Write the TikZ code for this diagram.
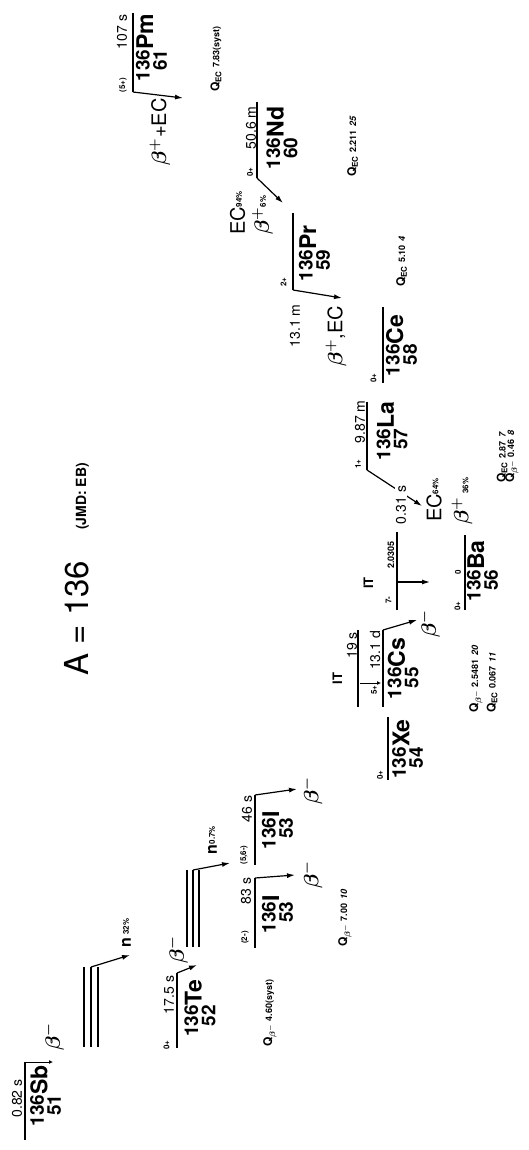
\documentclass[tikz,border=0pt]{standalone}
\usepackage{fontspec}
\usepackage{bm}
\setmainfont{TeX Gyre Heros}
\usetikzlibrary{arrows.meta}
\newcommand{\fs}[1]{\fontsize{#1}{#1}\selectfont}
\newcommand{\nuc}[3]{{\renewcommand{\arraystretch}{0}\fs{19}\bfseries\begin{tabular}[t]{@{}r@{}}\raisebox{3.5pt}{#1}\\#2\end{tabular}\fs{23}#3}}
\newcommand{\Qv}[3]{Q\textsubscript{#1}\hspace{3pt}{\fs{9}#2\hspace{4pt}{\itshape #3}}}
\newcommand{\bp}{$\bm{\beta}^{\bm{+}}$}
\newcommand{\bmn}{$\bm{\beta}^{\bm{-}}$}
\begin{document}
\begin{tikzpicture}[x=1pt,y=-1pt,
  lvl/.style={line width=2.8pt},
  thn/.style={line width=1.1pt},
  arr/.style={line width=1.2pt,-{Latex[length=8pt,width=5pt]}},
  arrs/.style={line width=1pt,-{Latex[length=4pt,width=4pt]}},
  rt/.style={rotate=90,inner sep=0pt},
  hl/.style={rt,font=\fs{14}},
  sp/.style={rt,font=\fs{8}\bfseries},
  q/.style={rt,anchor=west,font=\fs{12}\bfseries},
  dk/.style={rt,font=\fs{20}}]
\useasboundingbox (0,0) rectangle (528,1150);
\node[rt,font=\fs{33}] (title) at (76.5,618) {A = 136};
\node[rt,font=\fs{14}\bfseries] (auth) at (82.5,496.5) {(JMD: EB)};
% Pm
\coordinate (pmT) at (133,13); \coordinate (pmB) at (133,92); \coordinate (pmA) at (183,98);
\draw[lvl] (pmT) -- (pmB);
\node[rt] (pmL) at (151.5,47.5) {\nuc{136}{61}{Pm}};
\node[hl] (pmH) at (122,32) {107 s};
\node[sp] (pmS) at (123,85) {(5+)};
\draw[arr] (pmB) -- (pmA);
\node[dk] (pmD) at (160,132) {\bp+EC};
\node[q] (pmQ) at (216,92) {\Qv{EC}{7.83(syst)}{}};
% Nd
\coordinate (ndT) at (257,102); \coordinate (ndB) at (257,178); \coordinate (ndA) at (283,203);
\draw[lvl] (ndT) -- (ndB);
\node[rt] (ndL) at (282,138) {\nuc{136}{60}{Nd}};
\node[hl] (ndH) at (251,128) {50.6 m};
\node[sp] (ndS) at (250,172) {0+};
\draw[arr] (ndB) -- (ndA);
\node[dk] (ndEC) at (237.5,213) {EC\raisebox{3pt}{\fs{8}\bfseries 94\%}};
\node[dk] (ndBp) at (262.5,215) {\bp\raisebox{3pt}{\fs{8}\bfseries 6\%}};
\node[q] (ndQ) at (352.5,177) {\Qv{EC}{2.211}{25}};
% Pr
\coordinate (prT) at (293,213); \coordinate (prB) at (293,290); \coordinate (prA) at (342,298);
\draw[lvl] (prT) -- (prB);
\node[rt] (prL) at (314.5,253.5) {\nuc{136}{59}{Pr}};
\node[sp] (prS) at (283.5,282) {2+};
\node[hl] (prH) at (295,326) {13.1 m};
\draw[arr] (prB) -- (prA);
\node[dk] (prD) at (336,336.5) {\bp,EC};
\node[q] (prQ) at (401.5,287) {\Qv{EC}{5.10}{4}};
% Ce
\coordinate (ceT) at (383,307); \coordinate (ceB) at (383,383);
\draw[lvl] (ceT) -- (ceB);
\node[rt] (ceL) at (401.5,345.5) {\nuc{136}{58}{Ce}};
\node[sp] (ceS) at (373.5,378) {0+};
% La
\coordinate (laT) at (367,402); \coordinate (laB) at (367,470); \coordinate (laA) at (422,506);
\draw[lvl] (laT) -- (laB);
\node[rt] (laL) at (392,431) {\nuc{136}{57}{La}};
\node[sp] (laS) at (358,464) {1+};
\node[hl] (laH) at (360,422) {9.87 m};
\draw[arr] (laB) -- (laA);
\node[dk] (laEC) at (434,500) {EC\raisebox{3pt}{\fs{8}\bfseries 64\%}};
\node[dk] (laBp) at (462,501) {\bp\,{\fs{8}\bfseries 36\%}};
\node[q] (laQ1) at (502,483) {\Qv{EC}{2.87}{7}};
\node[q] (laQ2) at (512,483) {\Qv{$\bm{\beta}^{\bm{-}}$}{0.46}{8}};
% Ba
\coordinate (bamT) at (397,532); \coordinate (bamB) at (397,610);
\coordinate (bamM) at (397,582); \coordinate (bamA) at (430,582);
\draw[lvl] (bamT) -- (bamB);
\node[rt,fill=white,inner sep=1pt,font=\fs{14}] (bamH) at (401,505) {0.31 s};
\node[sp] (bamS) at (388.5,600) {7-};
\node[sp,font=\fs{9}\bfseries] (bamE) at (391,555) {2.0305};
\node[rt,font=\fs{13}\bfseries] (bamIT) at (368.5,583) {IT};
\draw[arr] (bamM) -- (bamA);
\coordinate (baT) at (465,535); \coordinate (baB) at (465,610);
\draw[lvl] (baT) -- (baB);
\node[rt] (baL) at (482.5,571) {\nuc{136}{56}{Ba}};
\node[sp] (baE) at (458,572) {0};
\node[sp] (baS) at (457.5,606) {0+};
% Cs
\coordinate (csmT) at (358,630); \coordinate (csmB) at (358,707);
\coordinate (csT) at (383,630); \coordinate (csB) at (383,707);
\coordinate (csm1) at (360,683); \coordinate (csm2) at (381,683);
\coordinate (csA) at (417,620);
\draw[lvl] (csmT) -- (csmB);
\draw[lvl] (csT) -- (csB);
\draw[arrs] (csm1) -- (csm2);
\node[hl] (csmH) at (352,645.5) {19 s};
\node[rt,font=\fs{13}\bfseries] (csIT) at (337.5,678.5) {IT};
\node[hl] (csH) at (375,650.5) {13.1 d};
\node[sp] (csS) at (374,690) {5+};
\node[rt] (csL) at (403,668.5) {\nuc{136}{55}{Cs}};
\draw[arr] (csT) -- (csA);
\node[dk] (csD) at (429.5,623.5) {\bmn};
\node[q] (csQ1) at (476,713) {\Qv{$\bm{\beta}^{\bm{-}}$}{2.5481}{20}};
\node[q] (csQ2) at (492,713) {\Qv{EC}{0.067}{11}};
% Xe
\coordinate (xeT) at (388,717); \coordinate (xeB) at (388,780);
\draw[lvl] (xeT) -- (xeB);
\node[rt] (xeL) at (407.5,749) {\nuc{136}{54}{Xe}};
\node[sp] (xeS) at (380,775) {0+};
% I isomer
\coordinate (imT) at (255,795); \coordinate (imB) at (255,865); \coordinate (imA) at (297,789);
\draw[lvl] (imT) -- (imB);
\node[rt] (imL) at (277.5,830.5) {\nuc{136}{53}{I}};
\node[hl] (imH) at (247,809) {46 s};
\node[sp] (imS) at (244,855) {(5,6-)};
\draw[arr] (imT) -- (imA);
\node[dk] (imD) at (312,790.5) {\bmn};
% I ground
\coordinate (iT) at (255,878); \coordinate (iB) at (255,948); \coordinate (iA) at (295,875);
\draw[lvl] (iT) -- (iB);
\node[rt] (iL) at (277.5,914.5) {\nuc{136}{53}{I}};
\node[hl] (iH) at (246,891) {83 s};
\node[sp] (iS) at (245,937.5) {(2-)};
\draw[arr] (iT) -- (iA);
\node[dk] (iD) at (312,875) {\bmn};
\node[q] (iQ) at (345,947) {\Qv{$\bm{\beta}^{\bm{-}}$}{7.00}{10}};
% Te
\coordinate (teT) at (177,973); \coordinate (teB) at (177,1048); \coordinate (teA) at (197,965);
\draw[lvl] (teT) -- (teB);
\node[rt] (teL) at (200,1008.5) {\nuc{136}{52}{Te}};
\node[hl] (teH) at (169,995) {17.5 s};
\node[sp] (teS) at (166.5,1045) {0+};
\draw[arr] (teT) -- (teA);
\node[dk] (teD) at (177.5,950) {\bmn};
\node[q] (teQ) at (270,1047) {\Qv{$\bm{\beta}^{\bm{-}}$}{4.60(syst)}{}};
\coordinate (tn1T) at (187,870); \coordinate (tn1B) at (187,947);
\coordinate (tn2T) at (193,870); \coordinate (tn2B) at (193,947);
\coordinate (tn3T) at (199,870); \coordinate (tn3B) at (199,947);
\draw[thn] (tn1T) -- (tn1B); \draw[thn] (tn2T) -- (tn2B); \draw[thn] (tn3T) -- (tn3B);
\coordinate (tnA) at (230,863);
\draw[arr] (tn2T) -- (tnA);
\node[rt,font=\fs{16}\bfseries] (tnL) at (212.5,840) {n\raisebox{2pt}{\fs{8}0.7\%}};
% Sb
\coordinate (sbT) at (25,1062); \coordinate (sbB) at (25,1140); \coordinate (sbA) at (53,1062);
\draw[lvl] (sbT) -- (sbB);
\node[rt] (sbL) at (45.5,1096) {\nuc{136}{51}{Sb}};
\node[hl] (sbH) at (17,1098.5) {0.82 s};
\draw[arrs] (sbT) -- (sbA);
\node[dk] (sbD) at (53.5,1036.5) {\bmn};
\coordinate (sn1T) at (84,967); \coordinate (sn1B) at (84,1047);
\coordinate (sn2T) at (91,967); \coordinate (sn2B) at (91,1047);
\coordinate (sn3T) at (98,967); \coordinate (sn3B) at (98,1047);
\draw[thn] (sn1T) -- (sn1B); \draw[thn] (sn2T) -- (sn2B); \draw[thn] (sn3T) -- (sn3B);
\coordinate (snA) at (130,955);
\draw[arr] (sn2T) -- (snA);
\node[rt,font=\fs{16}\bfseries] (snL) at (126.5,933) {n\,\raisebox{2pt}{\fs{8}32\%}};
\end{tikzpicture}
\end{document}
